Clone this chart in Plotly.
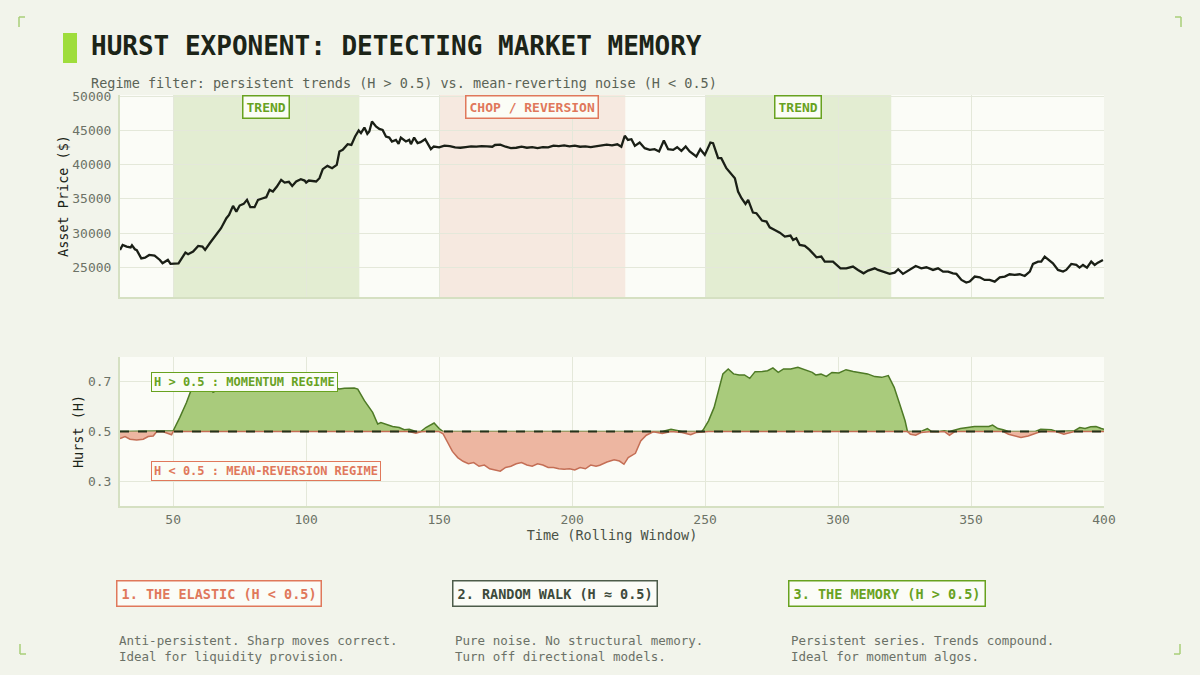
import plotly.graph_objects as go

# ---------------- DATA ----------------
price_t = [30, 31, 32.5, 34, 34.5, 35.6, 36.3, 38, 39.4, 41, 43, 45, 46, 48, 49, 52, 54.6, 55.6, 57.5, 59.4,
           61, 62, 63.75, 65.6, 68, 70, 71, 72.5, 73.75, 75, 76.5, 77.75, 79, 80.6, 81.9, 83.75, 85, 86.25, 87.5, 89,
           90.6, 91.9, 93.5, 94.75, 96.25, 98, 99.4, 100, 101, 103.75, 105, 106.25, 108, 109.75, 111.5, 112.5, 113.75,
           115.6, 117, 118.4, 119.75, 120.6, 121.9, 123, 123.75, 124.75, 126.25, 127.5, 128.75, 130, 131.25, 132.25,
           133.75, 134.75, 135.6, 137.5, 138.75, 139.4, 140.6, 141.9, 143, 144.75, 146.9, 148,
           150, 152, 154, 156, 158, 160, 162, 164, 166, 168, 170, 171, 173, 175, 177, 179, 181, 183, 185, 187, 189,
           191, 193, 195, 197, 199, 201, 203, 205, 207, 209, 211, 213, 215, 217, 218.5, 219.8, 221, 222.3,
           223.6, 225.4, 227.3, 229.2, 231, 232.7, 234.5, 236.1, 238, 239.5, 241.1, 242.7, 244.2, 246.7, 248.2, 249.9,
           252, 253, 254.9, 256.1, 258, 259.9, 261.2, 262.4, 263.7, 265.2, 266.2, 268, 269.3, 270.3, 271.4, 273.1,
           274.3, 276.2, 278.1, 280, 282.1, 283.1, 284.3, 285.6, 287.5, 289.3, 291.9, 293.7, 295, 298.1, 300.9, 303.1,
           305.6, 307.5, 309.6, 311.3, 313.8, 315, 316.9, 319.4, 321.3, 322.6, 324.4, 326.9, 329.2, 331.3, 333.2,
           335.7, 337.6, 339.5, 341.4, 343.2, 344.5, 346.4, 348.2, 349.5, 351.4, 353.3, 355.1, 357, 358.9, 360.8,
           362.7, 364.5, 366.4, 368.3, 370.2, 372.1, 373.3, 375.2, 376.4, 377.7, 378.9, 380.8, 382.7, 384.6, 385.8,
           387.7, 389.6, 390.8, 392.1, 393.6, 395.2, 396.5, 397.7, 399.6]
price = [27530, 28260, 28020, 27900, 28200, 27630, 27500, 26300, 26400, 26800, 26700, 26070, 25580, 26070, 25490,
         25580, 27140, 26900, 27290, 28120, 28020, 27530, 28500, 29480, 30700, 32160, 32650, 33960, 33130, 34010,
         34250, 34840, 33770, 33770, 34840, 35080, 35230, 36300, 36050, 36790, 37760, 37370, 37470, 36880, 37520,
         37860, 37660, 37370, 37660, 37520, 38000, 39320, 39800, 39460, 39950, 41900, 42140, 42970, 42870, 44090,
         44970, 44580, 45400, 44480, 44820, 46280, 45550, 45210, 45060, 44090, 43940, 43360, 43600, 43020, 43940,
         43360, 43600, 42970, 43940, 43120, 43260, 43700, 42240, 42630,
         42500, 42750, 42700, 42500, 42450, 42550, 42650, 42600, 42700, 42650, 42600, 42850, 42900, 42600, 42400,
         42450, 42600, 42450, 42550, 42400, 42550, 42500, 42750, 42700, 42800, 42650, 42750, 42600, 42650, 42550,
         42700, 42750, 42900, 42800, 42950, 42600, 44200, 43600, 43700,
         42720, 43210, 42390, 42140, 42240, 41900, 43500, 42240, 42140, 42530, 42000, 42630, 41900, 41170, 42240,
         41410, 43210, 43110, 40920, 40920, 39460, 38490, 38000, 36050, 35080, 34250, 34840, 32990, 32890, 32400,
         31820, 31670, 30840, 30450, 30060, 29480, 29630, 28990, 29240, 28260, 28120, 27530, 26460, 26560, 25830,
         25830, 24850, 24850, 25100, 24610, 24120, 24510, 24850, 24610, 24370, 24030, 24220, 24710, 24030, 24610,
         25190, 24850, 25000, 24610, 24850, 24370, 24370, 24120, 24030, 23150, 22760, 22910, 23640, 23540, 23150,
         23150, 22910, 23540, 23640, 23980, 23880, 23980, 23730, 24370, 25490, 25830, 25830, 26560, 26170, 25580,
         24610, 24370, 24610, 25490, 25340, 24950, 25340, 24950, 25830, 25340, 25680, 26070]

hurst_t = [30, 31.9, 33.75, 36.25, 38.75, 40.6, 42.5, 43.75, 46.25, 48.1, 49.4, 50, 52.5, 55, 56.9, 58.75, 61.25,
           63.75, 65, 67.5, 70, 75, 80, 85, 90, 95, 100, 105, 110, 112.5, 114.4, 118.1, 119.4, 121.9, 125, 126.9,
           128.1, 130, 132.5, 135, 136.9, 138.75, 141.25, 143.1, 145, 148.1, 150,
           151.5, 153, 155, 157, 159, 161, 163, 165, 167, 169, 171, 173, 175, 177, 179, 181, 183, 185, 187, 189, 191,
           193, 195, 197, 199, 201, 203, 205, 207, 209,
           210.4, 213.1, 215.8, 217.8, 219.5, 221.1, 223.8, 225.8, 227.9, 230.5, 233.9, 237.2, 241.3, 244.6, 246.6,
           248.7, 249.3, 251.3, 253.4, 255.4, 256.7, 258.7, 260.7, 262.8, 264.8, 266.8, 268.8, 271.5, 273.5, 275.5,
           277.5, 279.5, 282.2, 284.9, 287.6, 290.3, 291.6, 293.6, 295.6, 297.7, 300.3, 303.0, 305.7, 308.4, 311.1,
           313.8, 316.4, 318.9, 321.1, 323.2, 325.2, 326.1, 327.2, 329.2, 331.2, 333.6, 335.2, 337.9, 339.9, 341.9,
           344, 346, 348.7, 351.3, 354, 356.7, 358.1, 360.1, 362.1, 364.1, 366.8, 368.8, 371.5, 374.2, 376.2, 378.2,
           380.2, 382.2, 384.9, 386.9, 388.9, 390.9, 392.9, 395, 397, 399, 400]
hurst = [0.472, 0.48, 0.469, 0.466, 0.469, 0.48, 0.482, 0.499, 0.499, 0.493, 0.487, 0.503, 0.557, 0.617, 0.671,
         0.691, 0.685, 0.674, 0.658, 0.672, 0.68, 0.676, 0.682, 0.675, 0.679, 0.677, 0.681, 0.676, 0.678, 0.671,
         0.674, 0.675, 0.671, 0.624, 0.577, 0.53, 0.536, 0.53, 0.52, 0.516, 0.507, 0.509, 0.493, 0.499, 0.516,
         0.534, 0.512,
         0.49, 0.46, 0.42, 0.395, 0.38, 0.37, 0.375, 0.36, 0.365, 0.35, 0.345, 0.34, 0.355, 0.36, 0.37, 0.375,
         0.365, 0.36, 0.37, 0.365, 0.355, 0.355, 0.35, 0.348, 0.35, 0.345, 0.355, 0.35, 0.365, 0.36,
         0.364, 0.377, 0.386, 0.381, 0.368, 0.395, 0.412, 0.462, 0.485, 0.499, 0.492, 0.509, 0.496, 0.487, 0.496,
         0.499, 0.507, 0.543, 0.597, 0.674, 0.732, 0.752, 0.732, 0.728, 0.728, 0.714, 0.741, 0.742, 0.745, 0.756,
         0.738, 0.752, 0.752, 0.759, 0.748, 0.738, 0.728, 0.731, 0.722, 0.738, 0.736, 0.749, 0.742, 0.738, 0.732,
         0.721, 0.718, 0.725, 0.678, 0.61, 0.543, 0.5, 0.489, 0.485, 0.496, 0.512, 0.5, 0.499, 0.503, 0.485,
         0.507, 0.512, 0.516, 0.52, 0.52, 0.52, 0.526, 0.512, 0.507, 0.489, 0.48, 0.476, 0.482, 0.492, 0.509,
         0.507, 0.507, 0.499, 0.489, 0.496, 0.503, 0.516, 0.512, 0.519, 0.52, 0.512, 0.509]

THRESHOLD = 0.5
regime_start = [50, 150, 250]
regime_end = [120, 220, 320]
regime_label = ["TREND", "CHOP / REVERSION", "TREND"]
regime_kind = ["trend", "chop", "trend"]

price_ticks = [25000, 30000, 35000, 40000, 45000, 50000]
price_tick_text = ["25000", "30000", "35000", "40000", "45000", "50000"]
hurst_ticks = [0.3, 0.5, 0.7]
hurst_tick_text = ["0.3", "0.5", "0.7"]
time_ticks = [50, 100, 150, 200, 250, 300, 350, 400]

card_titles = ["1. THE ELASTIC (H < 0.5)", "2. RANDOM WALK (H ≈ 0.5)", "3. THE MEMORY (H > 0.5)"]
card_texts = ["Anti-persistent. Sharp moves correct.<br>Ideal for liquidity provision.",
              "Pure noise. No structural memory.<br>Turn off directional models.",
              "Persistent series. Trends compound.<br>Ideal for momentum algos."]

# ---------------- STYLE ----------------
FONT = "DejaVu Sans Mono"
PAPER = "#f2f4eb"
PLOTBG = "#fbfcf7"
GRID = "#e4e8da"
AXIS = "#d5e0c2"
GREEN = "#68a21f"
RED = "#e0785b"
DARK = "#1c2418"
TICK = "#6c7266"
LIME = "#9fdd3c"

fig = go.Figure()

# price line
fig.add_trace(go.Scatter(x=price_t, y=price, mode="lines", line=dict(color="#1a1f16", width=2.3),
                         xaxis="x", yaxis="y", hoverinfo="skip", showlegend=False))

# hurst fills
base = [THRESHOLD] * len(hurst_t)
upper = [max(h, THRESHOLD) for h in hurst]
lower = [min(h, THRESHOLD) for h in hurst]
fig.add_trace(go.Scatter(x=hurst_t, y=base, mode="lines", line=dict(width=0, color="rgba(0,0,0,0)"),
                         xaxis="x2", yaxis="y2", showlegend=False, hoverinfo="skip"))
fig.add_trace(go.Scatter(x=hurst_t, y=upper, mode="lines", fill="tonexty", fillcolor="#a9cb7c",
                         line=dict(color="#4e7a26", width=1.5), xaxis="x2", yaxis="y2", showlegend=False,
                         hoverinfo="skip"))
fig.add_trace(go.Scatter(x=hurst_t, y=base, mode="lines", line=dict(width=0, color="rgba(0,0,0,0)"),
                         xaxis="x2", yaxis="y2", showlegend=False, hoverinfo="skip"))
fig.add_trace(go.Scatter(x=hurst_t, y=lower, mode="lines", fill="tonexty", fillcolor="#edb6a1",
                         line=dict(color="#c46e55", width=1.5), xaxis="x2", yaxis="y2", showlegend=False,
                         hoverinfo="skip"))
fig.add_trace(go.Scatter(x=[hurst_t[0], hurst_t[-1]], y=[THRESHOLD, THRESHOLD], mode="lines",
                         line=dict(color="#25321a", width=1.8, dash="dash"), xaxis="x2", yaxis="y2",
                         showlegend=False, hoverinfo="skip"))

shapes = []
annotations = []
for s, e, lab, kind in zip(regime_start, regime_end, regime_label, regime_kind):
    col = GREEN if kind == "trend" else RED
    fill = "rgba(140,185,80,0.22)" if kind == "trend" else "rgba(230,150,120,0.18)"
    shapes.append(dict(type="rect", xref="x", yref="y domain", x0=s, x1=e, y0=0, y1=1,
                       fillcolor=fill, line=dict(width=0), layer="below"))
    annotations.append(dict(x=(s + e) / 2, y=0.94, xref="x", yref="y domain", yanchor="middle",
                            text="<b>%s</b>" % lab,
                            showarrow=False, font=dict(family=FONT, size=13, color=col),
                            bgcolor="#fbfdf6", bordercolor=col, borderwidth=1.5, borderpad=3))

# hurst labels
annotations.append(dict(x=41.5, y=0.7, xref="x2", yref="y2", xanchor="left", yanchor="middle",
                        text="<b>H > 0.5 : MOMENTUM REGIME</b>",
                        showarrow=False, font=dict(family=FONT, size=12, color=GREEN),
                        bgcolor="#fbfdf6", bordercolor=GREEN, borderwidth=1, borderpad=2))
annotations.append(dict(x=41.5, y=0.34, xref="x2", yref="y2", xanchor="left", yanchor="middle",
                        text="<b>H < 0.5 : MEAN-REVERSION REGIME</b>",
                        showarrow=False, font=dict(family=FONT, size=12, color=RED),
                        bgcolor="#fbfdf6", bordercolor=RED, borderwidth=1, borderpad=2))

# title
shapes.append(dict(type="rect", xref="paper", yref="paper", x0=63 / 1200, x1=77 / 1200,
                   y0=1 - 63 / 675, y1=1 - 33 / 675, fillcolor=LIME, line=dict(width=0)))
annotations.append(dict(x=89 / 1200, y=1 - 46 / 675, xref="paper", yref="paper", xanchor="left", yanchor="middle",
                        text="<b>HURST EXPONENT: DETECTING MARKET MEMORY</b>", showarrow=False,
                        font=dict(family=FONT, size=26, color=DARK)))
annotations.append(dict(x=89 / 1200, y=1 - 83 / 675, xref="paper", yref="paper", xanchor="left", yanchor="middle",
                        text="Regime filter: persistent trends (H > 0.5) vs. mean-reverting noise (H < 0.5)",
                        showarrow=False, font=dict(family=FONT, size=13.5, color="#5a6356")))

# cards
card_x = [116, 452, 788]
card_border = [RED, "#4d5c4a", GREEN]
card_font = [RED, "#3d4a3b", GREEN]
for cx, t, d, c, fc in zip(card_x, card_titles, card_texts, card_border, card_font):
    annotations.append(dict(x=cx / 1200, y=1 - 593 / 675, xref="paper", yref="paper", xanchor="left",
                            yanchor="middle", text="<b>%s</b>" % t, showarrow=False,
                            font=dict(family=FONT, size=13.5, color=fc),
                            bgcolor="#fbfcf7", bordercolor=c, borderwidth=1.5, borderpad=4))
    annotations.append(dict(x=(cx + 1) / 1200, y=1 - 648 / 675, xref="paper", yref="paper", xanchor="left",
                            yanchor="middle", align="left", text=d, showarrow=False,
                            font=dict(family=FONT, size=12.5, color="#6b7167")))

# corner brackets
cc = "#a9cf78"
def seg(x0, y0, x1, y1):
    shapes.append(dict(type="line", xref="paper", yref="paper", x0=x0 / 1200, x1=x1 / 1200,
                       y0=1 - y0 / 675, y1=1 - y1 / 675, line=dict(color=cc, width=1.5)))
seg(19, 17, 19, 27); seg(19, 17, 25, 17)
seg(1181, 17, 1181, 27); seg(1175, 17, 1181, 17)
seg(20, 644, 20, 654); seg(20, 654, 26, 654)
seg(1180, 644, 1180, 654); seg(1174, 654, 1180, 654)

xdom = [120 / 1200, 1104 / 1200]
axis_common = dict(showgrid=True, gridcolor=GRID, gridwidth=1, zeroline=False,
                   showline=True, linecolor=AXIS, linewidth=2,
                   tickfont=dict(family=FONT, size=13, color=TICK),
                   ticks="outside", tickcolor="rgba(0,0,0,0)")

fig.update_layout(
    width=1200, height=675,
    margin=dict(l=0, r=0, t=0, b=0),
    paper_bgcolor=PAPER, plot_bgcolor=PLOTBG,
    showlegend=False,
    font=dict(family=FONT, color=TICK),
    xaxis=dict(domain=xdom, anchor="y", range=[30, 400], tickvals=time_ticks, showticklabels=False,
               matches="x2", ticklen=0, **axis_common),
    yaxis=dict(domain=[1 - 297 / 675, 1 - 95 / 675], anchor="x", range=[20660, 50150], tickvals=price_ticks,
               ticktext=price_tick_text, ticklen=4,
               title=dict(text="Asset Price ($)", font=dict(family=FONT, size=13.5, color=DARK), standoff=1),
               automargin=False, **axis_common),
    xaxis2=dict(domain=xdom, anchor="y2", range=[30, 400], tickvals=time_ticks, ticklen=0,
                title=dict(text="Time (Rolling Window)", font=dict(family=FONT, size=13.5, color="#4a5247"),
                           standoff=3),
                automargin=False, **axis_common),
    yaxis2=dict(domain=[1 - 506 / 675, 1 - 357 / 675], anchor="x2", range=[0.2, 0.8], tickvals=hurst_ticks,
                ticktext=hurst_tick_text, ticklen=4,
                title=dict(text="Hurst (H)", font=dict(family=FONT, size=13.5, color=DARK), standoff=1),
                automargin=False, **axis_common),
    shapes=shapes,
    annotations=annotations,
)

fig.write_html("out.html")
